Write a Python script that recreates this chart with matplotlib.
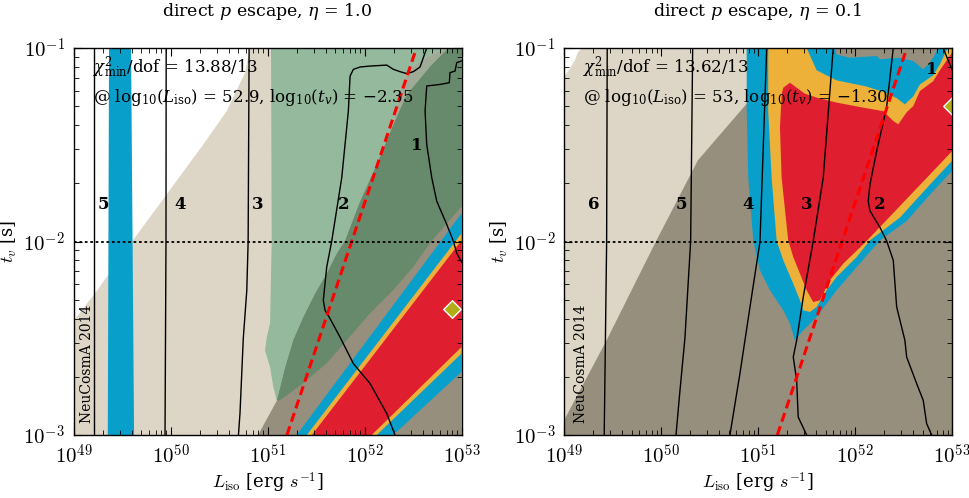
import numpy as np
import matplotlib
matplotlib.use('Agg')
import matplotlib.pyplot as plt
from matplotlib.ticker import FixedLocator, FuncFormatter, LogLocator

plt.rcParams['font.family'] = ['DejaVu Serif']
plt.rcParams['mathtext.fontset'] = 'cm'

BEIGE = '#ddd5c5'
GREY = '#978f7e'
LGREEN = '#94b99c'
DGREEN = '#688a6c'
SLIVER = '#9fab96'
BLUE = '#08a0cb'
YELLOW = '#edb13a'
RED = '#df1e30'

# all shapes in log10(L_iso [erg/s]) , log10(t_v [s])

# ---------------- left panel, eta = 1.0 ----------------
L_white_lx = [49.0, 49.0, 49.239, 49.582, 49.961, 50.338, 50.579, 50.768, 50.82]
L_white_ly = [-1.0, -2.411, -2.256, -2.014, -1.756, -1.498, -1.326, -1.127, -1.0]

L_stripe_lx = [49.366, 49.353, 49.624, 49.593]
L_stripe_ly = [-1.0, -3.0, -3.0, -1.0]

L_grey_lx = [50.902, 51.098, 52.0, 52.861, 53.0, 53.0]
L_grey_ly = [-3.0, -2.821, -1.8, -1.0, -1.0, -3.0]

L_lgreen_lx = [51.036, 51.043, 51.026, 50.992, 50.974, 51.026, 51.060, 51.095, 51.129,
               51.180, 51.263, 51.366, 51.490, 51.610, 51.713, 51.799, 51.954, 52.126,
               52.297, 52.384, 52.521, 52.655, 52.830]
L_lgreen_ly = [-1.0, -1.994, -2.423, -2.494, -2.563, -2.649, -2.752, -2.821, -2.754,
               -2.651, -2.511, -2.392, -2.268, -2.164, -2.061, -1.994, -1.791, -1.601,
               -1.394, -1.171, -1.084, -1.043, -1.0]

L_sliver_lx = [52.297, 52.384, 52.521, 52.655, 52.830, 52.861, 52.675, 52.521, 52.435]
L_sliver_ly = [-1.394, -1.171, -1.084, -1.043, -1.0, -1.0, -1.095, -1.188, -1.239]

L_dgreen_lx = [51.095, 51.129, 51.180, 51.263, 51.366, 51.490, 51.610, 51.713, 51.799,
               51.954, 52.126, 52.297, 52.435, 52.521, 52.675, 52.861, 53.0, 53.0,
               52.85, 52.70, 52.60, 52.5, 52.294, 52.057, 51.816, 51.610, 51.366, 51.129]
L_dgreen_ly = [-2.821, -2.754, -2.651, -2.511, -2.392, -2.268, -2.164, -2.061, -1.994,
               -1.791, -1.601, -1.394, -1.239, -1.188, -1.095, -1.0, -1.0, -1.82,
               -1.905, -1.994, -2.06, -2.133, -2.252, -2.371, -2.511, -2.629, -2.733, -2.821]

L_blue_lx = [51.30, 53.0, 53.0, 52.297]
L_blue_ly = [-3.0, -1.854, -2.674, -3.0]
L_yellow_lx = [51.405, 53.0, 53.0, 52.126]
L_yellow_ly = [-3.0, -1.958, -2.579, -3.0]
L_red_lx = [51.457, 53.0, 53.0, 52.074]
L_red_ly = [-3.0, -1.994, -2.545, -3.0]

L_lines = {
    '5': ([49.215, 49.215], [-1.0, -3.0]),
    '4': ([49.955, 49.953, 49.943], [-1.0, -2.0, -3.0]),
    '3': ([50.81, 50.80, 50.786, 50.75, 50.716, 50.70], [-1.0, -2.0, -2.253, -2.5, -2.888, -3.0]),
    '2': ([52.641, 52.624, 52.606, 52.572, 52.503, 52.435, 52.366, 52.297, 52.229, 52.057,
           51.954, 51.885, 51.851, 51.833, 51.765, 51.662, 51.610, 51.575, 51.593, 51.644,
           51.747, 51.885, 52.057, 52.229, 52.314],
          [-1.0, -1.024, -1.050, -1.098, -1.122, -1.132, -1.122, -1.110, -1.088, -1.093,
           -1.098, -1.110, -1.145, -1.326, -1.670, -1.997, -2.132, -2.304, -2.356, -2.398,
           -2.494, -2.631, -2.734, -2.889, -3.0]),
    '1': ([53.0, 52.951, 52.933, 52.881, 52.874, 52.778, 52.641, 52.624, 52.641, 52.693,
           52.744, 52.847, 52.915, 52.951, 53.0],
          [-1.067, -1.075, -1.119, -1.127, -1.179, -1.188, -1.196, -1.326, -1.498, -1.670,
           -1.791, -1.911, -1.997, -2.061, -2.106]),
}
L_label_lx = [49.307, 50.098, 50.899, 51.781, 52.538]
L_label_ly = [-1.808, -1.808, -1.808, -1.808, -1.503]
L_label_txt = ['5', '4', '3', '2', '1']

# ---------------- right panel, eta = 0.1 ----------------
R_beige_lx = [49.0, 49.0, 49.44, 49.948, 50.381, 50.887, 50.95, 50.95]
R_beige_ly = [-1.0, -2.925, -2.51, -2.0, -1.58, -1.286, -1.286, -1.0]

R_white_lx = [49.0, 49.0, 49.062, 49.113, 49.144, 49.186]
R_white_ly = [-1.0, -1.15, -1.105, -1.063, -1.022, -1.0]

R_blue_lx = [50.884, 50.884, 50.900, 50.952, 51.021, 51.124, 51.261, 51.330, 51.381,
             51.467, 51.605, 51.811, 52.018, 52.258, 52.533, 52.807, 53.0, 53.0,
             52.859, 52.825, 52.773, 52.704, 52.601, 52.464, 52.258, 52.224, 51.948,
             51.811, 51.794]
R_blue_ly = [-1.0, -1.326, -1.670, -1.997, -2.149, -2.252, -2.356, -2.424, -2.511,
             -2.459, -2.390, -2.252, -2.132, -1.994, -1.894, -1.739, -1.636, -1.0,
             -1.0, -1.033, -1.075, -1.11, -1.067, -1.050, -1.058, -1.041, -1.050,
             -1.033, -1.0]

R_yellow_lx = [51.106, 51.106, 51.141, 51.193, 51.261, 51.364, 51.433, 51.467, 51.536,
               51.605, 51.657, 51.708, 51.811, 52.018, 52.155, 52.464, 52.807, 53.0,
               53.0, 52.945, 52.876, 52.807, 52.670, 52.601, 52.515, 52.433, 52.309,
               52.113, 51.811, 51.605, 51.502]
R_yellow_ly = [-1.0, -1.326, -1.670, -1.997, -2.097, -2.218, -2.304, -2.356, -2.364,
               -2.338, -2.295, -2.252, -2.183, -2.080, -1.994, -1.876, -1.687, -1.584,
               -1.0, -1.011, -1.084, -1.141, -1.188, -1.250, -1.291, -1.260, -1.229,
               -1.198, -1.167, -1.115, -1.0]

R_red_lx = [51.261, 51.330, 51.399, 51.485, 51.605, 51.811, 52.086, 52.292, 52.395,
            52.447, 52.533, 52.601, 52.670, 52.807, 52.876, 53.0, 53.0, 52.121, 51.880,
            51.742, 51.673, 51.639, 51.570, 51.502, 51.433, 51.364, 51.312, 51.244,
            51.227, 51.244]
R_red_ly = [-1.205, -1.179, -1.205, -1.236, -1.256, -1.282, -1.308, -1.326, -1.377,
            -1.394, -1.332, -1.300, -1.222, -1.171, -1.115, -1.024, -1.534, -1.997, -2.114,
            -2.200, -2.269, -2.304, -2.313, -2.252, -2.166, -2.080, -1.994, -1.670,
            -1.411, -1.239]

R_lines = {
    '6': ([49.446, 49.44, 49.415], [-1.0, -2.0, -3.0]),
    '5': ([50.327, 50.306, 50.247, 50.196, 50.155], [-1.0, -2.0, -2.5, -2.77, -3.0]),
    '4': ([51.090, 51.021, 50.918, 50.814, 50.711], [-1.0, -2.0, -2.338, -2.683, -3.0]),
    '3': ([51.776, 51.742, 51.673, 51.570, 51.467, 51.399, 51.364, 51.399, 51.415, 51.502],
          [-1.0, -1.222, -1.670, -1.997, -2.287, -2.511, -2.597, -2.717, -2.907, -3.0]),
    '2': ([52.395, 52.326, 52.224, 52.155, 52.137, 52.155, 52.258, 52.327, 52.395, 52.430,
           52.515, 52.533, 52.636, 52.704, 52.739, 52.791],
          [-1.0, -1.308, -1.532, -1.704, -1.791, -1.842, -1.927, -1.997, -2.097, -2.338,
           -2.511, -2.597, -2.734, -2.821, -2.941, -3.0]),
    '1': ([52.910, 52.95, 53.0], [-1.0, -1.05, -1.11]),
}
R_label_lx = [49.302, 50.213, 50.900, 51.502, 52.258, 52.791]
R_label_ly = [-1.808, -1.808, -1.808, -1.808, -1.808, -1.110]
R_label_txt = ['6', '5', '4', '3', '2', '1']

# common
dash_lx = [51.2, 52.535]
dash_ly = [-3.0, -1.0]
tv_ref = -2.0

panels = [
    dict(title=r'direct $p$ escape, $\eta$ = 1.0', chi='13.88/13', best=(52.9, -2.35),
         bestlbl=('52.9', '\u22122.35'), bg=BEIGE,
         polys=[(L_white_lx, L_white_ly, 'white'), (L_stripe_lx, L_stripe_ly, BLUE),
                (L_grey_lx, L_grey_ly, GREY),
                (L_lgreen_lx, L_lgreen_ly, LGREEN), (L_sliver_lx, L_sliver_ly, SLIVER),
                (L_dgreen_lx, L_dgreen_ly, DGREEN), (L_blue_lx, L_blue_ly, BLUE),
                (L_yellow_lx, L_yellow_ly, YELLOW), (L_red_lx, L_red_ly, RED)],
         lines=L_lines, labels=(L_label_lx, L_label_ly, L_label_txt), neu_x=0.034,
         pos=[0.0759, 0.1265, 0.4004, 0.777]),
    dict(title=r'direct $p$ escape, $\eta$ = 0.1', chi='13.62/13', best=(53.0, -1.30),
         bestlbl=('53', '\u22121.30'), bg=GREY,
         polys=[(R_beige_lx, R_beige_ly, BEIGE), (R_white_lx, R_white_ly, 'white'),
                (R_blue_lx, R_blue_ly, BLUE), (R_yellow_lx, R_yellow_ly, YELLOW),
                (R_red_lx, R_red_ly, RED)],
         lines=R_lines, labels=(R_label_lx, R_label_ly, R_label_txt), neu_x=0.045,
         pos=[0.582, 0.1265, 0.4004, 0.777]),
]

fig = plt.figure(figsize=(9.69, 4.98), dpi=100)

for p in panels:
    ax = fig.add_axes(p['pos'])
    ax.set_facecolor(p['bg'])
    ax.set_xscale('log')
    ax.set_yscale('log')

    for lx, ly, c in p['polys']:
        ax.fill(10**np.array(lx), 10**np.array(ly), color=c, lw=0, zorder=1)

    for key, (lx, ly) in p['lines'].items():
        ax.plot(10**np.array(lx), 10**np.array(ly), color='black', lw=1.0, zorder=3)

    ax.plot(10**np.array(dash_lx), 10**np.array(dash_ly), color='#ff0000', lw=2.2,
            dashes=(3, 1.6), zorder=4)
    ax.axhline(10**tv_ref, color='black', lw=1.3, ls=(0, (1.5, 1.5)), zorder=4)

    blx, bly, btxt = p['labels']
    for x, y, t in zip(blx, bly, btxt):
        ax.text(10**x, 10**y, t, fontsize=12, fontweight='bold', ha='center',
                va='center', zorder=5)

    ax.scatter([10**p['best'][0]], [10**p['best'][1]], marker='D', s=80, c='#b0ad17',
               edgecolors='white', linewidths=1.0, zorder=6, clip_on=True)

    ax.text(0.05, 0.948, r'$\chi^2_{\rm min}$/dof = ' + p['chi'], transform=ax.transAxes,
            fontsize=12, ha='left', va='center', zorder=7, math_fontfamily='dejavuserif')
    ax.text(0.05, 0.873, r'@ log$_{10}$($L_{\rm iso}$) = ' + p['bestlbl'][0] +
            r', log$_{10}$($t_v$) = ' + p['bestlbl'][1], transform=ax.transAxes,
            fontsize=12, ha='left', va='center', zorder=7, math_fontfamily='dejavuserif')
    ax.text(p['neu_x'], 0.03, 'NeuCosmA 2014', transform=ax.transAxes, rotation=90,
            fontsize=10, ha='center', va='bottom', zorder=7)

    ax.set_xlim(1e49, 1e53)
    ax.set_ylim(1e-3, 1e-1)
    ax.xaxis.set_major_locator(FixedLocator([1e49, 1e50, 1e51, 1e52, 1e53]))
    ax.yaxis.set_major_locator(FixedLocator([1e-3, 1e-2, 1e-1]))
    ax.xaxis.set_minor_locator(LogLocator(base=10, subs=np.arange(2, 10), numticks=20))
    ax.yaxis.set_minor_locator(LogLocator(base=10, subs=np.arange(2, 10), numticks=20))
    fmt = FuncFormatter(lambda v, pos: r'$10^{%d}$' % int(round(np.log10(v))))
    ax.xaxis.set_major_formatter(fmt)
    ax.yaxis.set_major_formatter(fmt)
    ax.xaxis.set_minor_formatter(FuncFormatter(lambda v, pos: ''))
    ax.yaxis.set_minor_formatter(FuncFormatter(lambda v, pos: ''))
    ax.tick_params(which='both', direction='in', top=True, right=True, labelsize=15)
    ax.tick_params(which='major', length=6, width=0.8, pad=6)
    ax.tick_params(which='minor', length=3.5, width=0.6)
    for s in ax.spines.values():
        s.set_linewidth(1.0)
        s.set_zorder(8)

    ax.set_xlabel(r'$L_{\rm iso}$ [erg $s^{-1}$]', fontsize=13, labelpad=2)
    ax.set_ylabel(r'$t_v$ [s]', fontsize=13, labelpad=3)
    ax.set_title(p['title'], fontsize=12.5, pad=23, math_fontfamily='dejavuserif')

fig.savefig('out.png', dpi=100)
